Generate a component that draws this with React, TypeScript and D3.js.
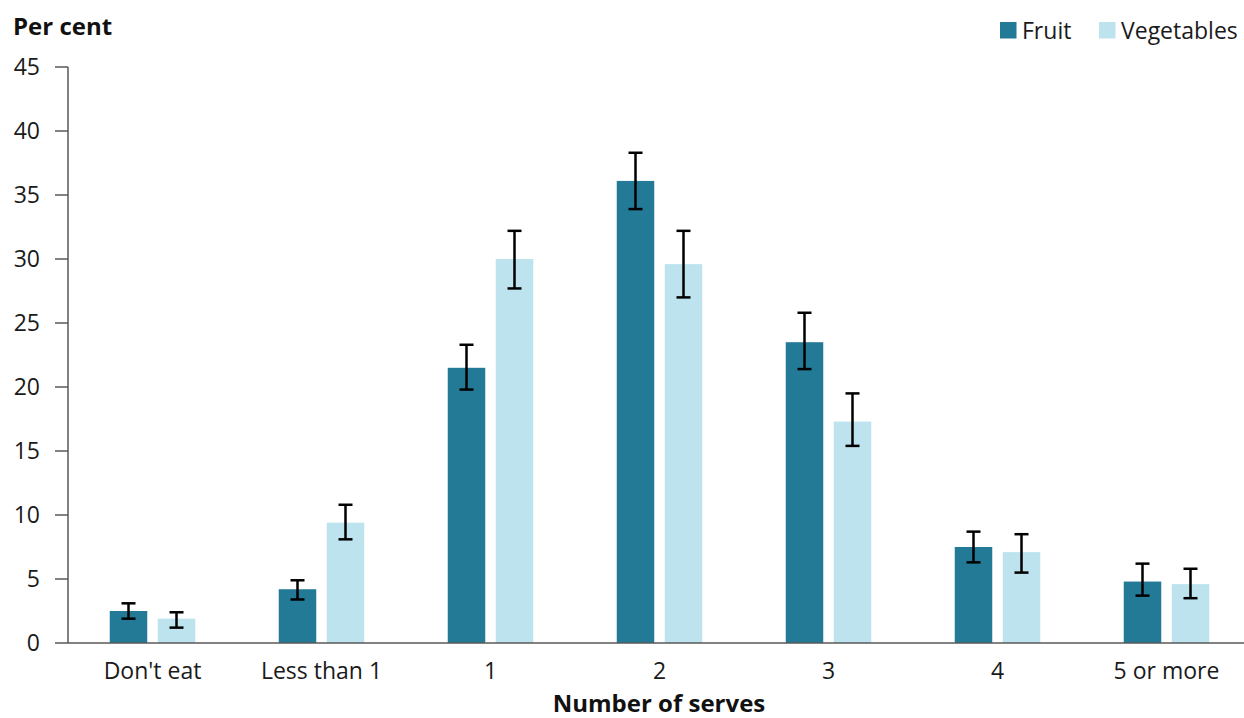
import React from "react";
import * as d3 from "d3";

const categories = ["Don't eat", "Less than 1", "1", "2", "3", "4", "5 or more"];
const fruit = [2.5, 4.2, 21.5, 36.1, 23.5, 7.5, 4.8];
const fruitLow = [1.9, 3.4, 19.8, 33.9, 21.4, 6.3, 3.7];
const fruitHigh = [3.1, 4.9, 23.3, 38.3, 25.8, 8.7, 6.2];
const vegetables = [1.9, 9.4, 30.0, 29.6, 17.3, 7.1, 4.6];
const vegLow = [1.2, 8.1, 27.7, 27.0, 15.4, 5.5, 3.5];
const vegHigh = [2.4, 10.8, 32.2, 32.2, 19.5, 8.5, 5.8];
const yTicks = [0, 5, 10, 15, 20, 25, 30, 35, 40, 45];
const series = [
  { name: "Fruit", values: fruit, low: fruitLow, high: fruitHigh, color: "#237a96" },
  { name: "Vegetables", values: vegetables, low: vegLow, high: vegHigh, color: "#bde3ef" },
];

const W = 1244;
const H = 718;
const FONT = "'Open Sans', sans-serif";

export default function App() {
  const x = d3.scaleBand<string>().domain(categories).range([68, 1251]).paddingInner(0).paddingOuter(0);
  const y = d3.scaleLinear().domain([0, 45]).range([643, 67]);
  const barW = 37.5;
  const gap = 10.5;
  const offsets = [-(gap / 2) - barW, gap / 2];
  const cap = 7;

  return (
    <div style={{ position: "absolute", left: 0, top: 0 }}>
      <svg width={W} height={H} style={{ display: "block", fontFamily: FONT }}>
        <rect width={W} height={H} fill="#fff" />
        {/* y axis */}
        <line x1={68} x2={68} y1={y(45)} y2={y(0)} stroke="#595959" strokeWidth={1.5} />
        {yTicks.map((t) => (
          <g key={t}>
            <line x1={55} x2={68} y1={y(t)} y2={y(t)} stroke="#595959" strokeWidth={1.5} />
            <text x={40} y={y(t)} dy="0.35em" textAnchor="end" fontSize={23} fill="#1a1a1a">
              {t}
            </text>
          </g>
        ))}
        <text x={13} y={35} fontSize={24} fontWeight={700} fill="#111">Per cent</text>
        {/* bars */}
        {series.map((s, si) =>
          categories.map((c, i) => {
            const cx = (x(c) as number) + x.bandwidth() / 2;
            const bx = cx + offsets[si];
            return (
              <rect
                key={s.name + c}
                x={bx}
                y={y(s.values[i])}
                width={barW}
                height={y(0) - y(s.values[i])}
                fill={s.color}
              />
            );
          })
        )}
        {/* x axis */}
        <line x1={68} x2={W} y1={y(0)} y2={y(0)} stroke="#595959" strokeWidth={1.5} />
        {/* error bars */}
        {series.map((s, si) =>
          categories.map((c, i) => {
            const cx = (x(c) as number) + x.bandwidth() / 2 + offsets[si] + barW / 2;
            return (
              <g key={"e" + s.name + c} stroke="#000" strokeWidth={2.5}>
                <line x1={cx} x2={cx} y1={y(s.high[i])} y2={y(s.low[i])} />
                <line x1={cx - cap} x2={cx + cap} y1={y(s.high[i])} y2={y(s.high[i])} />
                <line x1={cx - cap} x2={cx + cap} y1={y(s.low[i])} y2={y(s.low[i])} />
              </g>
            );
          })
        )}
        {/* category labels */}
        {categories.map((c) => (
          <text
            key={"l" + c}
            x={(x(c) as number) + x.bandwidth() / 2}
            y={679}
            textAnchor="middle"
            fontSize={23}
            fill="#1a1a1a"
          >
            {c}
          </text>
        ))}
        <text x={659} y={712} textAnchor="middle" fontSize={24} fontWeight={700} fill="#111">
          Number of serves
        </text>
        {/* legend */}
        {series.map((s, si) => {
          const lx = si === 0 ? 1000 : 1099;
          return (
            <g key={"lg" + s.name}>
              <rect x={lx} y={22} width={16.5} height={16.5} fill={s.color} />
              <text x={lx + 22} y={38.5} fontSize={23} fill="#1a1a1a">{s.name}</text>
            </g>
          );
        })}
      </svg>
    </div>
  );
}
